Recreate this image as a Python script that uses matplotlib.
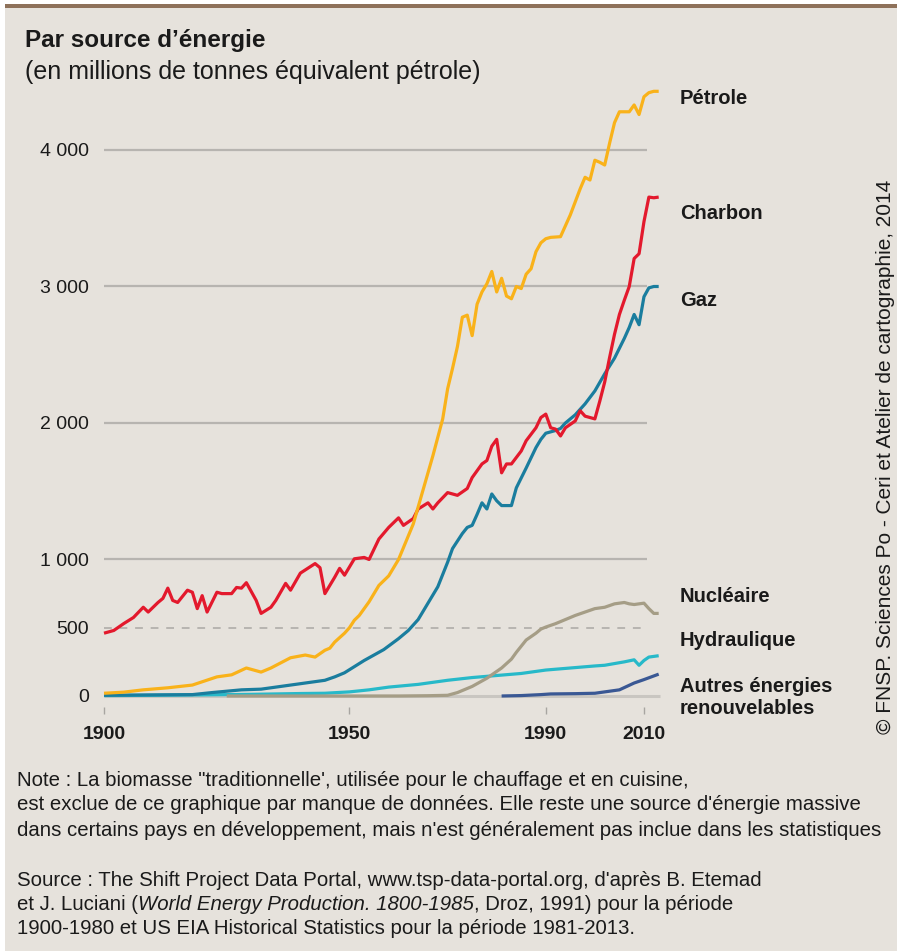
import matplotlib
matplotlib.use("Agg")
import matplotlib.pyplot as plt
from matplotlib.patches import Rectangle

plt.rcParams['font.family'] = ['Liberation Sans', 'DejaVu Sans']

# Production mondiale par source d'energie (Mtep)
oil_years = [1900, 1904, 1908, 1913, 1918, 1923, 1926, 1929, 1932, 1934, 1938, 1941,
             1943, 1945, 1946, 1947, 1949, 1950, 1951, 1952, 1954, 1956, 1958, 1960,
             1963, 1965, 1967, 1969, 1970, 1971, 1972, 1973, 1974, 1975, 1976, 1977,
             1978, 1979, 1980, 1981, 1982, 1983, 1984, 1985, 1986, 1987, 1988, 1989,
             1990, 1991, 1993, 1995, 1997, 1998, 1999, 2000, 2001, 2002, 2003, 2004,
             2005, 2006, 2007, 2008, 2009, 2010, 2011, 2012, 2013]
oil_values = [20, 28, 45, 60, 80, 140, 155, 205, 175, 205, 280, 300,
              285, 335, 350, 395, 460, 500, 555, 590, 690, 810, 880, 1000,
              1260, 1510, 1760, 2030, 2250, 2400, 2560, 2775, 2790, 2640, 2870, 2960,
              3020, 3110, 2960, 3060, 2930, 2910, 3000, 2985, 3090, 3130, 3255, 3320,
              3350, 3360, 3365, 3525, 3715, 3800, 3780, 3925, 3910, 3890, 4050, 4200,
              4280, 4280, 4280, 4330, 4260, 4390, 4420, 4430, 4430]

coal_years = [1900, 1902, 1904, 1906, 1908, 1909, 1911, 1912, 1913, 1914, 1915, 1917,
              1918, 1919, 1920, 1921, 1923, 1924, 1926, 1927, 1928, 1929, 1931, 1932,
              1934, 1935, 1937, 1938, 1940, 1943, 1944, 1945, 1947, 1948, 1949, 1951,
              1953, 1954, 1956, 1958, 1960, 1961, 1963, 1964, 1966, 1967, 1968, 1970,
              1972, 1974, 1975, 1977, 1978, 1979, 1980, 1981, 1982, 1983, 1985, 1986,
              1988, 1989, 1990, 1991, 1992, 1993, 1994, 1996, 1997, 1998, 2000, 2001,
              2002, 2003, 2004, 2005, 2006, 2007, 2008, 2009, 2010, 2011, 2012, 2013]
coal_values = [460, 480, 530, 575, 650, 615, 685, 715, 790, 700, 685, 775,
               760, 640, 735, 615, 760, 750, 750, 795, 790, 830, 700, 605,
               650, 700, 825, 775, 900, 970, 940, 750, 870, 935, 885, 1005,
               1015, 1000, 1150, 1235, 1305, 1250, 1300, 1370, 1415, 1370, 1415, 1490,
               1470, 1520, 1600, 1700, 1725, 1830, 1880, 1635, 1700, 1700, 1795, 1870,
               1965, 2040, 2065, 1965, 1955, 1905, 1965, 2015, 2090, 2050, 2030, 2160,
               2300, 2480, 2650, 2795, 2900, 3000, 3205, 3240, 3475, 3655, 3650, 3655]

gas_years = [1900, 1910, 1918, 1922, 1928, 1932, 1936, 1939, 1942, 1945, 1947, 1949,
             1951, 1953, 1955, 1957, 1960, 1962, 1964, 1966, 1968, 1970, 1971, 1973,
             1974, 1975, 1976, 1977, 1978, 1979, 1980, 1981, 1983, 1984, 1986, 1988,
             1989, 1990, 1992, 1993, 1994, 1996, 1998, 2000, 2002, 2004, 2006, 2007,
             2008, 2009, 2010, 2011, 2012, 2013]
gas_values = [5, 8, 10, 25, 45, 50, 70, 85, 100, 115, 140, 170,
              215, 260, 300, 340, 420, 480, 560, 680, 800, 980, 1080, 1190,
              1235, 1250, 1330, 1415, 1370, 1480, 1430, 1395, 1395, 1525, 1670, 1820,
              1880, 1925, 1945, 1960, 2000, 2060, 2140, 2235, 2360, 2475, 2620, 2700,
              2795, 2720, 2925, 2990, 3000, 3000]

nuc_years = [1925, 1960, 1966, 1970, 1972, 1975, 1978, 1980, 1981, 1983, 1984, 1986,
             1988, 1989, 1990, 1992, 1994, 1996, 1998, 2000, 2002, 2004, 2006, 2007,
             2008, 2009, 2010, 2011, 2012, 2013]
nuc_values = [0, 0, 2, 5, 25, 70, 130, 180, 205, 270, 320, 410,
              460, 490, 505, 530, 560, 590, 615, 640, 650, 675, 685, 675,
              670, 675, 680, 640, 605, 605]

hydro_years = [1900, 1910, 1920, 1930, 1940, 1945, 1950, 1954, 1958, 1964, 1970, 1975,
               1980, 1985, 1990, 1995, 2000, 2002, 2006, 2008, 2009, 2010, 2011, 2012, 2013]
hydro_values = [3, 5, 8, 12, 18, 20, 30, 45, 65, 85, 115, 135,
                150, 165, 190, 205, 220, 225, 250, 265, 225, 260, 285, 290, 295]

ren_years = [1981, 1985, 1989, 1991, 1996, 2000, 2003, 2005, 2008, 2010, 2013]
ren_values = [0, 3, 10, 15, 17, 20, 35, 45, 95, 120, 160]

ytick_values = [0, 500, 1000, 2000, 3000, 4000]
ytick_labels = ['0', '500', '1 000', '2 000', '3 000', '4 000']
xtick_values = [1900, 1950, 1990, 2010]

W, H = 897, 951
bg = '#e6e2dc'

fig = plt.figure(figsize=(W / 100, H / 100), dpi=100, facecolor='white')
fig.patches.append(Rectangle((5 / W, 0), 1, 1 - 8 / H, transform=fig.transFigure,
                             facecolor=bg, edgecolor='none', zorder=-10))
fig.patches.append(Rectangle((5 / W, 1 - 8 / H), 1, 4 / H, transform=fig.transFigure,
                             facecolor='#8e715a', edgecolor='none', zorder=-9))

ax = fig.add_axes([99.1 / W, (H - 706.9) / H, 564.5 / W, 638.8 / H])
ax.set_facecolor('none')
ax.set_xlim(1899, 2014)
ax.set_ylim(-80, 4600)
for s in ax.spines.values():
    s.set_visible(False)

# grille
ax.hlines([1000, 2000, 3000, 4000], 1900, 2010.6, color='#b7b4b0', lw=1.6, zorder=1)
ax.hlines(500, 1900, 2010.6, color='#b7b4b0', lw=1.4, linestyles=(0, (4, 4)), zorder=1)
ax.hlines(0, 1900, 2013.2, color='#c9c6c1', lw=2.2, zorder=1)

lw = 2.3
ax.plot(ren_years, ren_values, color='#3a5894', lw=lw, zorder=3, solid_capstyle='butt')
ax.plot(hydro_years, hydro_values, color='#27b9c9', lw=lw, zorder=4, solid_capstyle='butt')
ax.plot(nuc_years, nuc_values, color='#a59d86', lw=lw, zorder=5, solid_capstyle='butt')
ax.plot(gas_years, gas_values, color='#1a7d9e', lw=lw, zorder=6, solid_capstyle='butt')
ax.plot(coal_years, coal_values, color='#e3192d', lw=lw, zorder=7, solid_capstyle='butt')
ax.plot(oil_years, oil_values, color='#f9b21a', lw=lw, zorder=8, solid_capstyle='butt')

ax.set_yticks(ytick_values)
ax.set_yticklabels(ytick_labels, fontsize=14)
ax.tick_params(axis='y', length=0, pad=7.5, labelcolor='#1a1a1a')
ax.set_xticks(xtick_values)
ax.set_xticklabels([str(v) for v in xtick_values], fontsize=14, fontweight='bold')
ax.tick_params(axis='x', length=5, width=1, color='#a8a5a1', pad=9, labelcolor='#1a1a1a')


def ftext(x, y, s, **kw):
    return fig.text(x / W, 1 - y / H, s, **kw)


ftext(25, 47, "Par source d\u2019énergie", fontsize=17.5, fontweight='bold',
      va='baseline', color='#1a1a1a')
ftext(25, 79, "(en millions de tonnes équivalent pétrole)", fontsize=18,
      va='baseline', color='#1a1a1a')

labels = [("Pétrole", 99), ("Charbon", 214), ("Gaz", 301), ("Nucléaire", 596),
          ("Hydraulique", 641), ("Autres énergies", 687), ("renouvelables", 709)]
for s, y in labels:
    ftext(680, y, s, fontsize=14.5, fontweight='bold', va='center', color='#1a1a1a')

ftext(885, 457, "\u00a9 FNSP. Sciences Po - Ceri et Atelier de cartographie, 2014",
      fontsize=15, rotation=90, ha='center', va='center', color='#1a1a1a')

fs = 14.7
notes = [
    (780, "Note : La biomasse \"traditionnelle', utilisée pour le chauffage et en cuisine,"),
    (805, "est exclue de ce graphique par manque de données. Elle reste une source d'énergie massive"),
    (830, "dans certains pays en développement, mais n'est généralement pas inclue dans les statistiques"),
    (880, "Source : The Shift Project Data Portal, www.tsp-data-portal.org, d'après B. Etemad"),
    (928, "1900-1980 et US EIA Historical Statistics pour la période 1981-2013."),
]
for y, s in notes:
    ftext(17, y, s, fontsize=fs, va='center', color='#1a1a1a')

# ligne avec partie en italique
renderer = fig.canvas.get_renderer()
x = 17
for part, style in [("et J. Luciani (", 'normal'),
                    ("World Energy Production. 1800-1985", 'italic'),
                    (", Droz, 1991) pour la période", 'normal')]:
    t = ftext(x, 905, part, fontsize=fs, va='center', style=style, color='#1a1a1a')
    bb = t.get_window_extent(renderer=renderer)
    x += bb.width

fig.savefig("out.png", dpi=100, facecolor='white')
